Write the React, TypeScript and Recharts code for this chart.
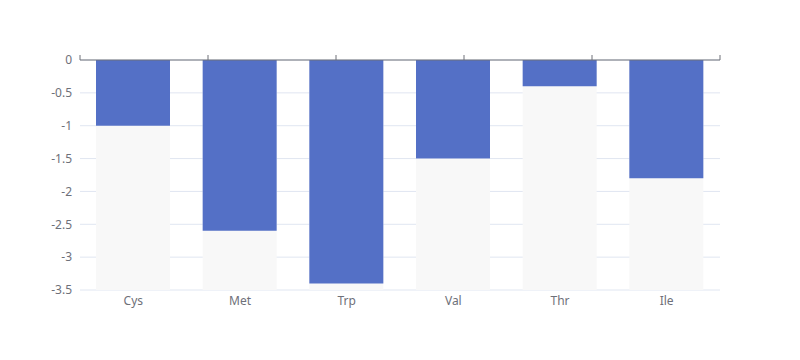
import React from "react";
import { BarChart, Bar, XAxis, YAxis, CartesianGrid } from "recharts";

const aminoAcids = ["Cys", "Met", "Trp", "Val", "Thr", "Ile"];
const scores = [-1, -2.6, -3.4, -1.5, -0.4, -1.8];
const yTicks = [0, -0.5, -1, -1.5, -2, -2.5, -3, -3.5];
const boundaryTicks = [0, 1, 2, 3, 4, 5, 6];

const AXIS = "#6E7079";
const GRID = "#E0E6F1";

// tick lines only, no label text
const NoLabel = () => <g />;

export default function App() {
  const data = aminoAcids.map((name, i) => ({ name, value: scores[i] }));

  return (
    <div style={{ position: "absolute", left: 0, top: 0, fontFamily: "'Noto Sans', sans-serif" }}>
      <BarChart
        width={800}
        height={360}
        data={data}
        margin={{ top: 59, right: 80, bottom: 0, left: 0 }}
      >
        <CartesianGrid xAxisId="cat" vertical={false} stroke={GRID} />
        <XAxis
          xAxisId="cat"
          dataKey="name"
          height={70}
          axisLine={false}
          tickLine={false}
          tickSize={0}
          tickMargin={6}
          tick={{ fill: AXIS, fontSize: 12 }}
        />
        {/* axis line sits on zero (top), ticks on category boundaries */}
        <XAxis
          xAxisId="top"
          orientation="top"
          type="number"
          domain={[0, 6]}
          ticks={boundaryTicks}
          height={1}
          tick={NoLabel}
          tickSize={5}
          axisLine={{ stroke: AXIS }}
          tickLine={{ stroke: AXIS }}
        />
        <YAxis
          domain={[-3.5, 0]}
          ticks={yTicks}
          width={80}
          axisLine={false}
          tickLine={false}
          tickSize={0}
          tickMargin={8}
          tick={{ fill: AXIS, fontSize: 12 }}
        />
        <Bar
          xAxisId="cat"
          dataKey="value"
          fill="#5470c6"
          barSize={74}
          background={{ fill: "#f8f8f8" }}
          isAnimationActive={false}
        />
      </BarChart>
    </div>
  );
}
